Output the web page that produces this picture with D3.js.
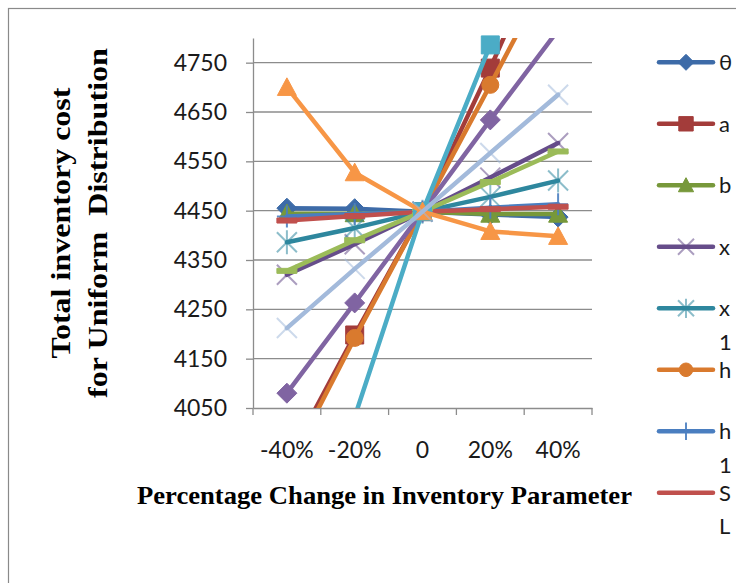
<!DOCTYPE html>
<html>
<head>
<meta charset="utf-8">
<script src="https://cdn.jsdelivr.net/npm/d3@7"></script>
<style>
  html, body { margin: 0; padding: 0; background: #fff; }
  svg { display: block; }
  .tick text, .lbl { font-family: Lato, "Open Sans", sans-serif; fill: #1a1a1a; }
  .title { font-family: "Liberation Serif", "Times New Roman", serif; font-weight: bold; fill: #000; }
</style>
</head>
<body>
<svg id="chart" width="736" height="583"></svg>
<script>
// Categories (percentage change of one parameter) and y ticks
const categories = ["-40%", "-20%", "0", "20%", "40%"];
const yTicks = [4050, 4150, 4250, 4350, 4450, 4550, 4650, 4750];

// Total inventory cost for each parameter, per category
const theta = [4455, 4454, 4448, 4442, 4437];
const a     = [3940, 4198, 4448, 4739, 5050];
const b     = [4444, 4444, 4448, 4443, 4443];
const x     = [4320, 4382, 4448, 4517, 4587];
const x1    = [4386, 4415, 4448, 4478, 4511];
const h     = [3925, 4192, 4448, 4705, 4965];
const h1    = [4438, 4443, 4448, 4456, 4463];
const SL    = [4430, 4439, 4448, 4453, 4458];
const series9  = [4328, 4390, 4448, 4508, 4570];
const series10 = [4080, 4263, 4448, 4634, 4816];
const series11 = [3620, 4032, 4448, 4786, 5130];
const series12 = [4700, 4527, 4448, 4408, 4398];
const series13 = [4212, 4332, 4448, 4567, 4685];

const names   = ["θ", "a", "b", "x", "x1", "h", "h1", "SL", "s9", "s10", "s11", "s12", "s13"];
const values  = [theta, a, b, x, x1, h, h1, SL, series9, series10, series11, series12, series13];
const colors  = ["#3D6BA8", "#A33C3A", "#77983A", "#664D8A", "#2E879E", "#D97A2E", "#4A7EC0",
                 "#C0504D", "#9BBB59", "#8064A2", "#4BACC6", "#F79646", "#A3BADB"];
const markers = ["diamond", "square", "triangle", "x", "star", "circle", "plus", "dash", "dash",
                 "diamond", "square", "triangle", "x"];
// legend entries: label split over lines as the narrow legend wraps them
const legendLines = [["θ"], ["a"], ["b"], ["x"], ["x", "1"], ["h"], ["h", "1"], ["S", "L"]];

const series = names.map((n, i) => ({
  name: n, color: colors[i], marker: markers[i],
  points: categories.map((c, j) => ({ cat: c, v: values[i][j] }))
}));

const svg = d3.select("#chart");

// outer chart border
svg.append("rect").attr("x", 8.5).attr("y", 8.5).attr("width", 800).attr("height", 700)
  .attr("fill", "none").attr("stroke", "#8a8a8a").attr("stroke-width", 1.2);

const plot = { left: 253, right: 592, top: 38, bottom: 408 };
const xs = d3.scaleBand().domain(categories).range([plot.left, plot.right]);
const ys = d3.scaleLinear().domain([4050, 4800]).range([plot.bottom, plot.top]);

// gridlines
svg.append("g").selectAll("line").data(yTicks.slice(1)).join("line")
  .attr("x1", plot.left).attr("x2", plot.right)
  .attr("y1", d => ys(d)).attr("y2", d => ys(d))
  .attr("stroke", "#8c8c8c").attr("stroke-width", 1.3);

// y axis
const yAxis = svg.append("g").attr("transform", `translate(${plot.left},0)`)
  .call(d3.axisLeft(ys).tickValues(yTicks).tickFormat(d3.format("d"))
    .tickSize(7).tickSizeOuter(0).tickPadding(19));
yAxis.selectAll("line").attr("stroke", "#8c8c8c").attr("stroke-width", 1.3);
yAxis.select(".domain").attr("stroke", "#8c8c8c").attr("stroke-width", 1.3);
yAxis.selectAll("text").attr("font-size", 23);

// x axis: labels centred in each band, ticks at band boundaries
const xAxis = svg.append("g").attr("transform", `translate(0,${plot.bottom})`)
  .call(d3.axisBottom(xs).tickSize(0).tickSizeOuter(0).tickPadding(34));
xAxis.select(".domain").attr("stroke", "#8c8c8c").attr("stroke-width", 1.3);
xAxis.selectAll("text").attr("font-size", 23);
const bounds = categories.map(c => xs(c)).concat([plot.right]);
xAxis.selectAll("line.bound").data(bounds).join("line").attr("class", "bound")
  .attr("x1", d => d).attr("x2", d => d).attr("y1", 0).attr("y2", 7)
  .attr("stroke", "#8c8c8c").attr("stroke-width", 1.3);

// clip lines to the plot area
svg.append("clipPath").attr("id", "plotclip").append("rect")
  .attr("x", plot.left).attr("y", plot.top)
  .attr("width", plot.right - plot.left).attr("height", plot.bottom - plot.top);

function markerPath(type, s) {
  switch (type) {
    case "diamond": return `M0,${-s}L${s},0L0,${s}L${-s},0Z`;
    case "square": return `M${-s},${-s}H${s}V${s}H${-s}Z`;
    case "triangle": return `M0,${-s}L${s},${s * 0.85}L${-s},${s * 0.85}Z`;
    case "x": return `M${-s},${-s}L${s},${s}M${-s},${s}L${s},${-s}`;
    case "star": return `M${-s},${-s}L${s},${s}M${-s},${s}L${s},${-s}M0,${-s * 1.2}L0,${s * 1.2}`;
    case "plus": return `M${-s},0H${s}M0,${-s * 1.1}V${s * 1.1}`;
    case "dash": return `M${-10},-2.5H10V2.5H-10Z`;
  }
  return "";
}

function drawMarker(g, type, color, cx, cy, s) {
  if (type === "circle") {
    g.append("circle").attr("cx", cx).attr("cy", cy).attr("r", s)
      .attr("fill", color).attr("stroke", color).attr("stroke-width", 1);
    return;
  }
  const p = g.append("path").attr("d", markerPath(type, s))
    .attr("transform", `translate(${cx},${cy})`);
  if (type === "x" || type === "star" || type === "plus") {
    p.attr("fill", "none").attr("stroke", color).attr("stroke-width", 2)
      .attr("stroke-opacity", type === "plus" ? 0.9 : 0.55);
  } else {
    p.attr("fill", color).attr("stroke", color).attr("stroke-width", 1);
  }
}

const markerSize = { diamond: 10, square: 9, triangle: 9.5, x: 10, star: 10, circle: 8.5, plus: 10, dash: 0 };

const line = d3.line().x(d => xs(d.cat) + xs.bandwidth() / 2).y(d => ys(d.v));
const [ymin, ymax] = ys.domain();

series.forEach(s => {
  const g = svg.append("g");
  g.append("path").datum(s.points).attr("d", line)
    .attr("clip-path", "url(#plotclip)")
    .attr("fill", "none").attr("stroke", s.color).attr("stroke-width", 4.5)
    .attr("stroke-linejoin", "round").attr("stroke-linecap", "round");
  s.points.filter(p => p.v >= ymin && p.v <= ymax).forEach(p => {
    drawMarker(g, s.marker, s.color, xs(p.cat) + xs.bandwidth() / 2, ys(p.v), markerSize[s.marker]);
  });
});

// legend (only the entries that fit)
const lg = svg.append("g");
legendLines.forEach((lines, i) => {
  const s = series[i];
  const y0 = 62.3 + i * 61.5;
  lg.append("line").attr("x1", 659).attr("x2", 713).attr("y1", y0).attr("y2", y0)
    .attr("stroke", s.color).attr("stroke-width", 4.5).attr("stroke-linecap", "round");
  if (s.marker !== "dash") drawMarker(lg, s.marker, s.color, 686, y0, markerSize[s.marker] * 0.8);
  lines.forEach((t, k) => {
    lg.append("text").attr("class", "lbl").attr("x", 719).attr("y", y0 + 8 + k * 33.5)
      .attr("font-size", 22).text(t);
  });
});

// axis titles
svg.append("text").attr("class", "title").attr("x", 384.5).attr("y", 504)
  .attr("text-anchor", "middle").attr("font-size", 26)
  .attr("textLength", 495).attr("lengthAdjust", "spacingAndGlyphs")
  .text("Percentage Change in Inventory Parameter");

const yTitle = ["Total inventory cost", "for Uniform  Distribution"];
const yTitleBase = [70, 107];
const yTitleLen = [271, 350];
yTitle.forEach((t, i) => {
  svg.append("text").attr("class", "title")
    .attr("transform", `translate(${yTitleBase[i]},223) rotate(-90)`)
    .attr("text-anchor", "middle").attr("font-size", 28)
    .attr("textLength", yTitleLen[i]).attr("lengthAdjust", "spacingAndGlyphs")
    .style("white-space", "pre")
    .text(t);
});
</script>
</body>
</html>
